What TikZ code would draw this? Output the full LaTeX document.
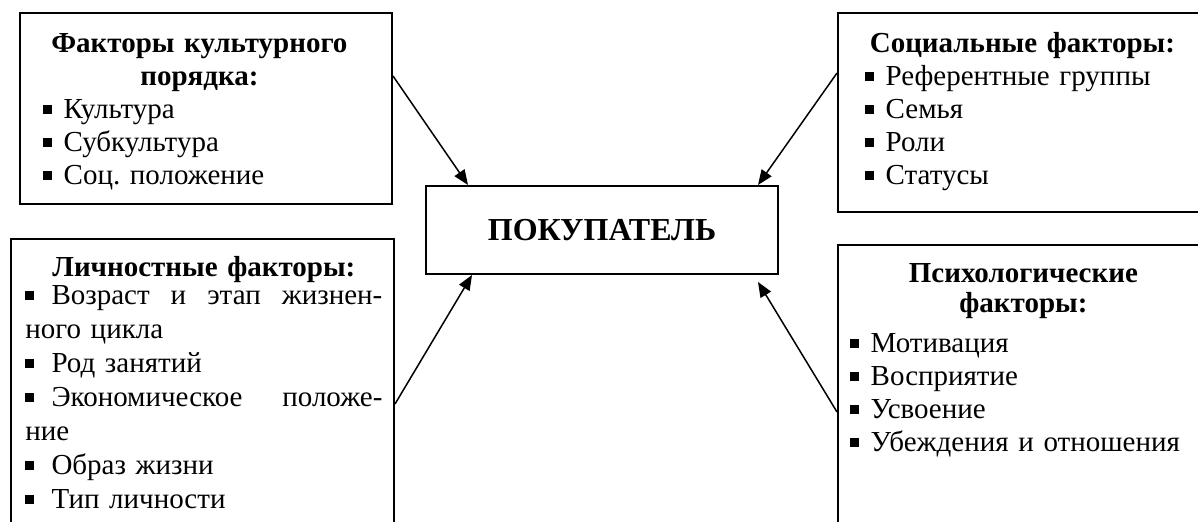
\documentclass[tikz,border=0pt]{standalone}
\usepackage{fontspec}
\setmainfont{Liberation Serif}
\usetikzlibrary{positioning,arrows.meta}
\tikzset{>={Triangle[length=7.5pt,width=6pt]}}
\frenchspacing
\newcommand{\bul}[1][0.4em]{\rule[0.18em]{0.3em}{0.3em}\hspace{#1}}
\newcommand{\hd}[1]{\makebox[\linewidth][c]{\bfseries #1}}

\begin{document}
\begin{tikzpicture}[x=0.5pt,y=-0.5pt,
    frame/.style={draw, line width=1pt, inner sep=0pt},
    txt/.style={anchor=base west, inner sep=0pt, align=left,
        font=\fontsize{14.5pt}{16.5pt}\selectfont},
    link/.style={->, line width=0.75pt}]
    \useasboundingbox (0,0) rectangle (1198,522);
    \clip (0,0) rectangle (1198,522);

    % frames
    \node[frame, minimum width=186pt, minimum height=95.5pt] (cult) at (206,108.5) {};
    \node[frame, minimum width=188.5pt, minimum height=99.5pt] (soc) at (1026.5,112.5) {};
    \node[frame, minimum width=191.5pt, minimum height=153pt] (pers) at (202.5,392) {};
    \node[frame, minimum width=188.5pt, minimum height=150pt] (psy) at (1026.5,395) {};
    \node[frame, minimum width=176pt, minimum height=44pt,
        font=\fontsize{16pt}{19pt}\selectfont\bfseries] (buyer) at (602,230) {ПОКУПАТЕЛЬ};

    % texts
    \node[txt, text width=156pt] (culttxt) at (43,53) {\hd{Факторы культурного}\\
        \hd{порядка:}\\ \bul Культура\\ \bul Субкультура\\ \bul Соц. положение};
    \node[txt, text width=157pt] (soctxt) at (865,53) {\hd{Социальные факторы:}\\
        \bul Референтные группы\\ \bul Семья\\ \bul Роли\\ \bul Статусы};
    \node[txt, text width=178.5pt, font=\fontsize{14.5pt}{17pt}\selectfont] (perstxt)
        at (25,277) {\hd{Личностные факторы:}\\[-3pt]
        \bul[0.6em]Возраст\hfill и\hfill этап\hfill жизнен-\\ ного цикла\\
        \bul[0.6em]Род занятий\\ \bul[0.6em]Экономическое\hfill положе-\\ ние\\
        \bul[0.6em]Образ жизни\\ \bul[0.6em]Тип личности};
    \node[txt, text width=173pt] (psytxt) at (850,283) {\hd{Психологические}\\[-1.5pt]
        \hd{факторы:}\\[3.5pt] \bul Мотивация\\ \bul Восприятие\\ \bul Усвоение\\
        \bul Убеждения и отношения};

    % arrows
    \draw[link] ([yshift=-32pt]cult.north east) -- ([xshift=21.5pt]buyer.north west);
    \draw[link] ([yshift=-30.5pt]soc.north west) -- ([xshift=-10.5pt]buyer.north east);
    \draw[link] ([yshift=-83pt]pers.north east) -- ([xshift=23.5pt]buyer.south west);
    \draw[link] ([yshift=-84pt]psy.north west) -- ([xshift=-10.5pt,yshift=-3.5pt]buyer.south east);
\end{tikzpicture}
\end{document}
